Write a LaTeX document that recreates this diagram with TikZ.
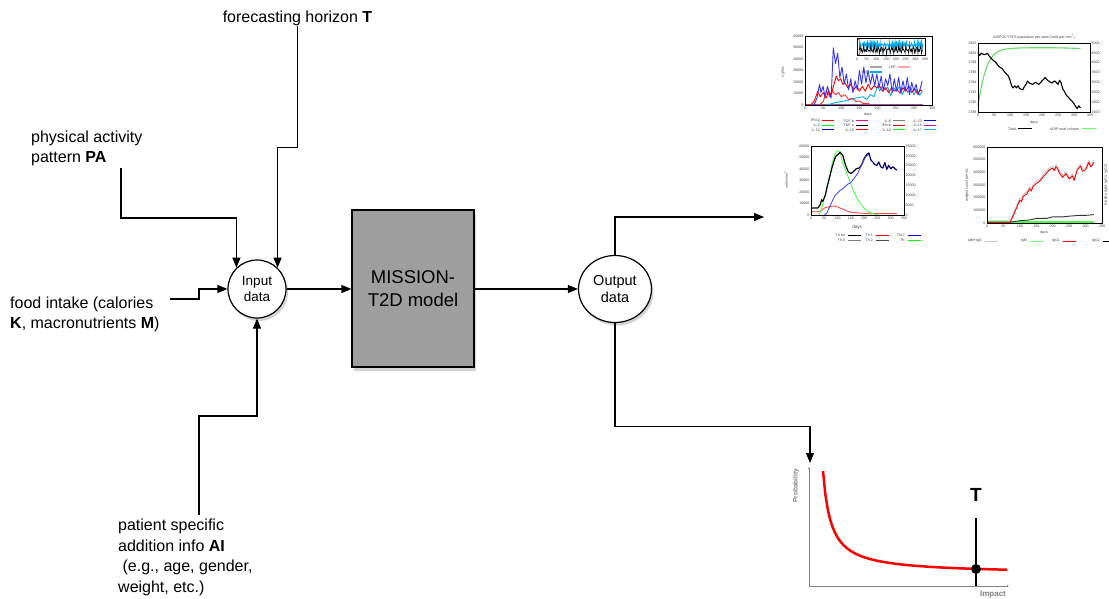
\documentclass[tikz,border=0pt]{standalone}
\usepackage{fontspec}
\setmainfont{Liberation Sans}
\usetikzlibrary{arrows.meta,shapes.geometric,shadows}
\definecolor{boxgray}{RGB}{158,158,158}

\begin{document}
\begin{tikzpicture}[x=1pt,y=-1pt,>={Triangle[length=10pt,width=8pt]},
    every node/.style={inner sep=0pt},
    lbl/.style={font=\fontsize{16}{20.5}\selectfont,align=left},
    datanode/.style={draw,circle,fill=white,line width=1.2pt,align=center,
      drop shadow={opacity=0.35,shadow xshift=2pt,shadow yshift=-3pt}},
    link/.style={line width=1.2pt,->},
    tick/.style={font=\fontsize{3.6}{4}\selectfont,text=black!75},
    curve/.style={line width=0.9pt,line join=round}]
\useasboundingbox (0,0) rectangle (1109,599);

% inputs
\node[lbl] (hor) at (297.5,18) {forecasting horizon \textbf{T}};
\node[lbl,anchor=west] (pa) at (31,148.5) {physical activity\\pattern \textbf{PA}};
\node[lbl,anchor=west] (food) at (10,314.5) {food intake (calories\\\textbf{K}, macronutrients \textbf{M})};
\node[lbl,anchor=west] (ai) at (118,557.5) {patient specific\\addition info \textbf{AI}\\\ (e.g., age, gender,\\weight, etc.)};
\coordinate (paend) at (121,168);
\coordinate (foodend) at (170,299);
\coordinate (aiend) at (199,515);

% model
\node[datanode,minimum size=58pt,font=\fontsize{13.5}{16.5}\selectfont] (inp) at (257,289) {Input\\data};
\node[draw,fill=boxgray,minimum width=122pt,minimum height=157pt,line width=1.2pt,
  align=center,font=\fontsize{18.5}{22.5}\selectfont,
  drop shadow={opacity=0.35,shadow xshift=2pt,shadow yshift=-4pt}] (model) at (413,288.5) {MISSION-\\T2D model};
\node[datanode,ellipse,minimum width=73pt,minimum height=67pt,font=\fontsize{14.5}{17}\selectfont] (outp) at (615,289) {Output\\data};
\coordinate (chartin) at (764,217);
\coordinate (probin) at (810,463);

\draw[link] (hor.south) -- ++(0,122) -| (inp.46);
\draw[link] (paend) -- ++(0,50) -| (inp.134);
\draw[link] (foodend) -- ++(29,0) |- (inp.west);
\draw[link] (aiend) -- ++(0,-99) -| (inp.south);
\draw[link] (inp.east) -- (inp.east -| model.west);
\draw[link] (model.east |- outp.west) -- (outp.west);
\draw[link] (outp.north) |- (chartin);
\draw[link] (outp.south) -- ++(0,103) -| (probin);

% cytokines
\begin{scope}[shift={(805,105)},x=0.3629pt,y=69pt]
  \foreach \d in {0,50,...,350} \node[tick,below=1.5pt] at (\d,0) {\d};
  \foreach \v [count=\i from 0] in {0,10000,20000,30000,40000,50000,60000} \node[tick,left=1.5pt] at (0,{\i/6}) {\v};
  \draw[violet!70,line width=1pt] (0,0.01) -- (325,0.01);
  \draw[curve,cyan] plot coordinates {(60,0)(80,0.03)(100,0.05)(120,0.07)(140,0.1)(160,0.12)(170,0.08)(180,0.15)(190,0.12)(200,0.28)(206,0.2)(212,0.27)(220,0.22)(228,0.26)(236,0.13)(244,0.25)(252,0.2)(260,0.27)(268,0.15)(276,0.25)(284,0.18)(292,0.25)(300,0.15)(308,0.22)(316,0.14)(323,0.2)};
  \draw[curve,red!80] plot coordinates {(40,0)(50,0.05)(60,0.2)(68,0.12)(76,0.2)(84,0.15)(92,0.18)(100,0.12)(110,0.15)(120,0.08)(130,0.1)(140,0.05)(150,0.06)(160,0.02)(175,0.02)(180,0)};
  \draw[curve,red] plot coordinates {(0,0)(15,0)(25,0.05)(35,0.2)(42,0.12)(50,0.18)(58,0.1)(65,0.2)(72,0.15)(80,0.3)(86,0.42)(92,0.35)(98,0.38)(104,0.3)(110,0.32)(118,0.25)(126,0.3)(134,0.22)(142,0.28)(150,0.2)(158,0.27)(166,0.2)(174,0.3)(182,0.22)(190,0.28)(198,0.25)(206,0.27)(214,0.2)(222,0.25)(230,0.18)(238,0.25)(246,0.2)(254,0.23)(262,0.17)(270,0.25)(278,0.2)(286,0.28)(294,0.18)(302,0.24)(310,0.16)(318,0.22)(323,0.2)};
  \draw[curve,blue!80] plot coordinates {(25,0)(33,0.1)(40,0.3)(44,0.18)(50,0.27)(55,0.12)(62,0.27)(68,0.15)(72,0.1)(78,0.83)(84,0.6)(90,0.75)(96,0.4)(102,0.55)(108,0.3)(114,0.45)(120,0.22)(126,0.38)(132,0.18)(138,0.35)(144,0.22)(150,0.5)(156,0.3)(162,0.55)(168,0.32)(174,0.5)(180,0.3)(186,0.45)(192,0.28)(198,0.45)(204,0.25)(210,0.42)(216,0.2)(222,0.38)(228,0.28)(234,0.45)(240,0.18)(246,0.38)(252,0.2)(258,0.4)(264,0.18)(270,0.35)(276,0.2)(282,0.4)(288,0.15)(294,0.33)(300,0.2)(306,0.3)(312,0.15)(318,0.25)(323,0.35)};
  % inset
  \fill[white] (143,0.725) rectangle (331,0.97);
  \draw[red!60,line width=0.8pt] (145,0.74) rectangle (150,0.95);
  \draw[cyan,line width=0.8pt] plot[domain=0:175,samples=90] ({\x+150},{0.87+0.05*sin(\x*89)+0.03*sin(\x*53)});
  \draw[black,line width=0.6pt] plot[domain=0:175,samples=90] ({\x+150},{0.8+0.04*sin(\x*71)+0.03*sin(\x*37)});
  \draw[line width=0.6pt] (143,0.725) rectangle (331,0.97);
  \foreach \d in {0,50,...,350} \node[tick] at ({143+\d*0.537},0.67) {\d};
  \draw[line width=0.7pt] (0,0) rectangle (350,1);
\end{scope}
\node[tick,rotate=90] at (783,72) {ng/mL};
\node[tick] at (868,115) {days};
\draw[gray!70,line width=1.2pt] (870,67) -- (882,67);
\node[tick,left=2pt] at (870,72) {IL-6};
\draw[cyan,line width=1.2pt] (870,72) -- (882,72);
\node[tick,left=2pt] at (898,67) {LEP};
\draw[red!35,line width=1.2pt] (898,67) -- (910,67);
\foreach \t/\col/\xx/\yy in {IFN-g/red/820/121,IL-2/green/820/125.5,IL-12/blue/820/130,
    TGF-b/magenta/854/121,TNF-a/black/854/125.5,IL-10/red/854/130,
    IL-6/gray/891/121,IFN-b/red/891/125.5,IL-18/green/891/130,
    IL-23/blue/922/121,IL-15/magenta/922/125.5,IL-17/cyan/922/130}{
  \node[tick,left] at (\xx,\yy) {\t};
  \draw[draw=\col,line width=1pt] (\xx+2,\yy) -- ++(12,0);
}

% adipocytes
\begin{scope}[shift={(978,112)},x=0.32pt,y=69pt]
  \foreach \d in {0,50,...,350} \node[tick,below=1.5pt] at (\d,0) {\d};
  \foreach \v [count=\i from 0] in {1788,1790,...,1802} \node[tick,left=1.5pt] at (0,{\i/7}) {\v};
  \foreach \v [count=\i from 0] in {1500,2000,...,5000} \node[tick,right=1.5pt] at (350,{\i/7}) {\v};
  \draw[curve,green!75!black!60!white,line width=1.1pt] plot[smooth] coordinates {(0,0.1)(10,0.35)(20,0.55)(30,0.68)(40,0.77)(50,0.83)(60,0.87)(75,0.9)(100,0.92)(150,0.93)(250,0.93)(320,0.92)};
  \draw[curve,line width=1.1pt] plot coordinates {(0,0.87)(5,0.82)(10,0.85)(20,0.83)(30,0.85)(35,0.81)(45,0.76)(55,0.72)(65,0.66)(75,0.63)(85,0.57)(95,0.52)(100,0.46)(105,0.38)(110,0.35)(115,0.38)(120,0.35)(125,0.38)(130,0.34)(140,0.32)(145,0.37)(150,0.4)(155,0.45)(160,0.42)(170,0.4)(180,0.43)(190,0.4)(200,0.45)(210,0.5)(215,0.47)(220,0.45)(230,0.42)(240,0.45)(250,0.4)(255,0.46)(260,0.42)(265,0.33)(270,0.3)(275,0.25)(285,0.2)(295,0.15)(300,0.12)(305,0.08)(310,0.05)(315,0.09)(320,0.06)};
  \draw[line width=0.7pt] (0,0) rectangle (350,1);
\end{scope}
\node[tick] at (1034,36.5) {ADIPOCYTES population per state (cells per mm\textsuperscript{2})};
\node[tick] at (1034,123) {days};
\node[tick,left] at (1016,129) {Total};
\draw[line width=1pt] (1018,129) -- (1032,129);
\node[tick,left] at (1079,129) {ADIP total volume};
\draw[green!60,line width=1pt] (1082,129) -- (1096,129);

% T cells
\begin{scope}[shift={(811,215)},x=0.2657pt,y=69pt]
  \foreach \d in {0,50,...,350} \node[tick,below=1.5pt] at (\d,0) {\d};
  \foreach \v [count=\i from 0] in {0,10000,20000,30000,40000,50000,60000} \node[tick,left=1.5pt] at (0,{\i/6}) {\v};
  \foreach \v [count=\i from 0] in {0,5000,10000,15000,20000,25000,30000,35000} \node[tick,right=1.5pt] at (350,{\i/7}) {\v};
  \draw[curve,red!70] plot[smooth] coordinates {(0,0.05)(30,0.05)(50,0.1)(70,0.12)(90,0.13)(110,0.1)(130,0.07)(150,0.04)(180,0.03)(220,0.02)(323,0.02)};
  \draw[curve,green!70] plot[smooth] coordinates {(30,0)(40,0.1)(50,0.25)(60,0.38)(70,0.55)(80,0.75)(90,0.88)(100,0.93)(110,0.9)(120,0.75)(140,0.55)(160,0.35)(180,0.2)(200,0.1)(220,0.04)(250,0)};
  \draw[curve,black,line width=1.2pt] plot coordinates {(0,0.1)(25,0.1)(35,0.15)(40,0.22)(45,0.2)(55,0.3)(60,0.4)(70,0.55)(80,0.7)(90,0.82)(95,0.86)(100,0.87)(110,0.91)(120,0.86)(130,0.72)(140,0.63)(150,0.6)(160,0.63)(170,0.67)(180,0.68)(190,0.72)(200,0.82)(210,0.88)(218,0.9)};
  \draw[curve,blue!70] plot coordinates {(50,0)(60,0.03)(70,0.12)(80,0.2)(90,0.28)(100,0.32)(110,0.36)(120,0.38)(130,0.42)(140,0.45)(150,0.47)(160,0.52)(175,0.6)(190,0.72)(205,0.84)(218,0.88)};
  \draw[curve,blue!40!black,line width=1.2pt] plot coordinates {(218,0.9)(225,0.8)(232,0.77)(240,0.73)(248,0.72)(255,0.77)(262,0.7)(270,0.68)(278,0.76)(285,0.66)(292,0.72)(300,0.67)(308,0.7)(316,0.67)(323,0.65)};
  \draw[line width=0.7pt] (0,0) rectangle (350,1);
\end{scope}
\node[tick,rotate=90] at (786,180) {cells/mm\textsuperscript{3}};
\node[tick,font=\fontsize{4.5}{5}\selectfont] at (857,227) {days};
\foreach \t/\col/\xx/\yy in {Th tot/black/845/235,Th 0/gray/845/240,Th 1/red/873/235,
    Th 2/black!70/873/240,Th17/blue/905/235,TR/green/905/240}{
  \node[tick,left] at (\xx,\yy) {\t};
  \draw[draw=\col,line width=1pt] (\xx+3,\yy) -- ++(13,0);
}

% antibodies
\begin{scope}[shift={(987,223)},x=0.3286pt,y=76pt]
  \foreach \d in {0,50,...,350} \node[tick,below=1.5pt] at (\d,0) {\d};
  \foreach \v [count=\i from 0] in {0,100000,200000,300000,400000,500000,600000} \node[tick,left=1.5pt] at (0,{\i/6}) {\v};
  \draw[green!70,line width=1.5pt] (0,0.01) -- (325,0.01);
  \draw[curve,black!80] plot coordinates {(0,0.01)(70,0.01)(100,0.03)(130,0.04)(150,0.06)(180,0.06)(200,0.08)(230,0.08)(250,0.09)(280,0.1)(300,0.1)(325,0.11)};
  \foreach \col/\s in {gray!45/2pt,red/0pt}
    \draw[curve,draw=\col,yshift=\s] plot coordinates {(0,0.01)(70,0.01)(75,0.05)(85,0.15)(95,0.25)(100,0.3)(105,0.28)(110,0.35)(120,0.38)(130,0.45)(135,0.42)(140,0.48)(150,0.52)(160,0.55)(170,0.6)(180,0.65)(190,0.7)(200,0.72)(205,0.69)(210,0.74)(215,0.71)(220,0.66)(230,0.6)(240,0.65)(250,0.58)(260,0.62)(265,0.56)(275,0.7)(285,0.75)(290,0.68)(300,0.7)(310,0.8)(315,0.74)(320,0.76)(325,0.8)};
  \draw[line width=0.7pt] (0,0) rectangle (350,1);
\end{scope}
\node[tick,rotate=90] at (967,185) {antigen count per mL};
\node[tick,rotate=90] at (1106,185) {Ab titre (IgM, IgG1, IgG2)};
\node[tick] at (1044,233) {days};
\foreach \t/\col/\xx in {IgM+IgG/gray!40/982,IgM/green!60/1027,IgG1/red/1060,IgG2/black/1100}{
  \node[tick,left] at (\xx,241) {\t};
  \draw[draw=\col,line width=1pt] (\xx+3,241) -- ++(13,0);
}

% probability vs impact
\draw[gray,line width=0.6pt,-{Latex[length=2pt,width=2pt]}] (809,586) -- (809,467);
\draw[gray,line width=0.6pt,-{Latex[length=2pt,width=2pt]}] (809,586) -- (1009,586);
\node[rotate=90,font=\bfseries\fontsize{6.5}{7}\selectfont,text=gray] (prob) at (796,486) {Probability};
\node[font=\bfseries\fontsize{8}{9}\selectfont,text=gray] (imp) at (993,595) {Impact};
\draw[red,line width=2.5pt] plot[domain=823:1007,samples=80] (\x,{574-824/(\x-815)});
\node[font=\bfseries\fontsize{19}{20}\selectfont] (tmark) at (976,495) {T};
\draw[line width=1.2pt] (976,518) -- (976,586);
\fill (976,569) circle (5);
\end{tikzpicture}
\end{document}
